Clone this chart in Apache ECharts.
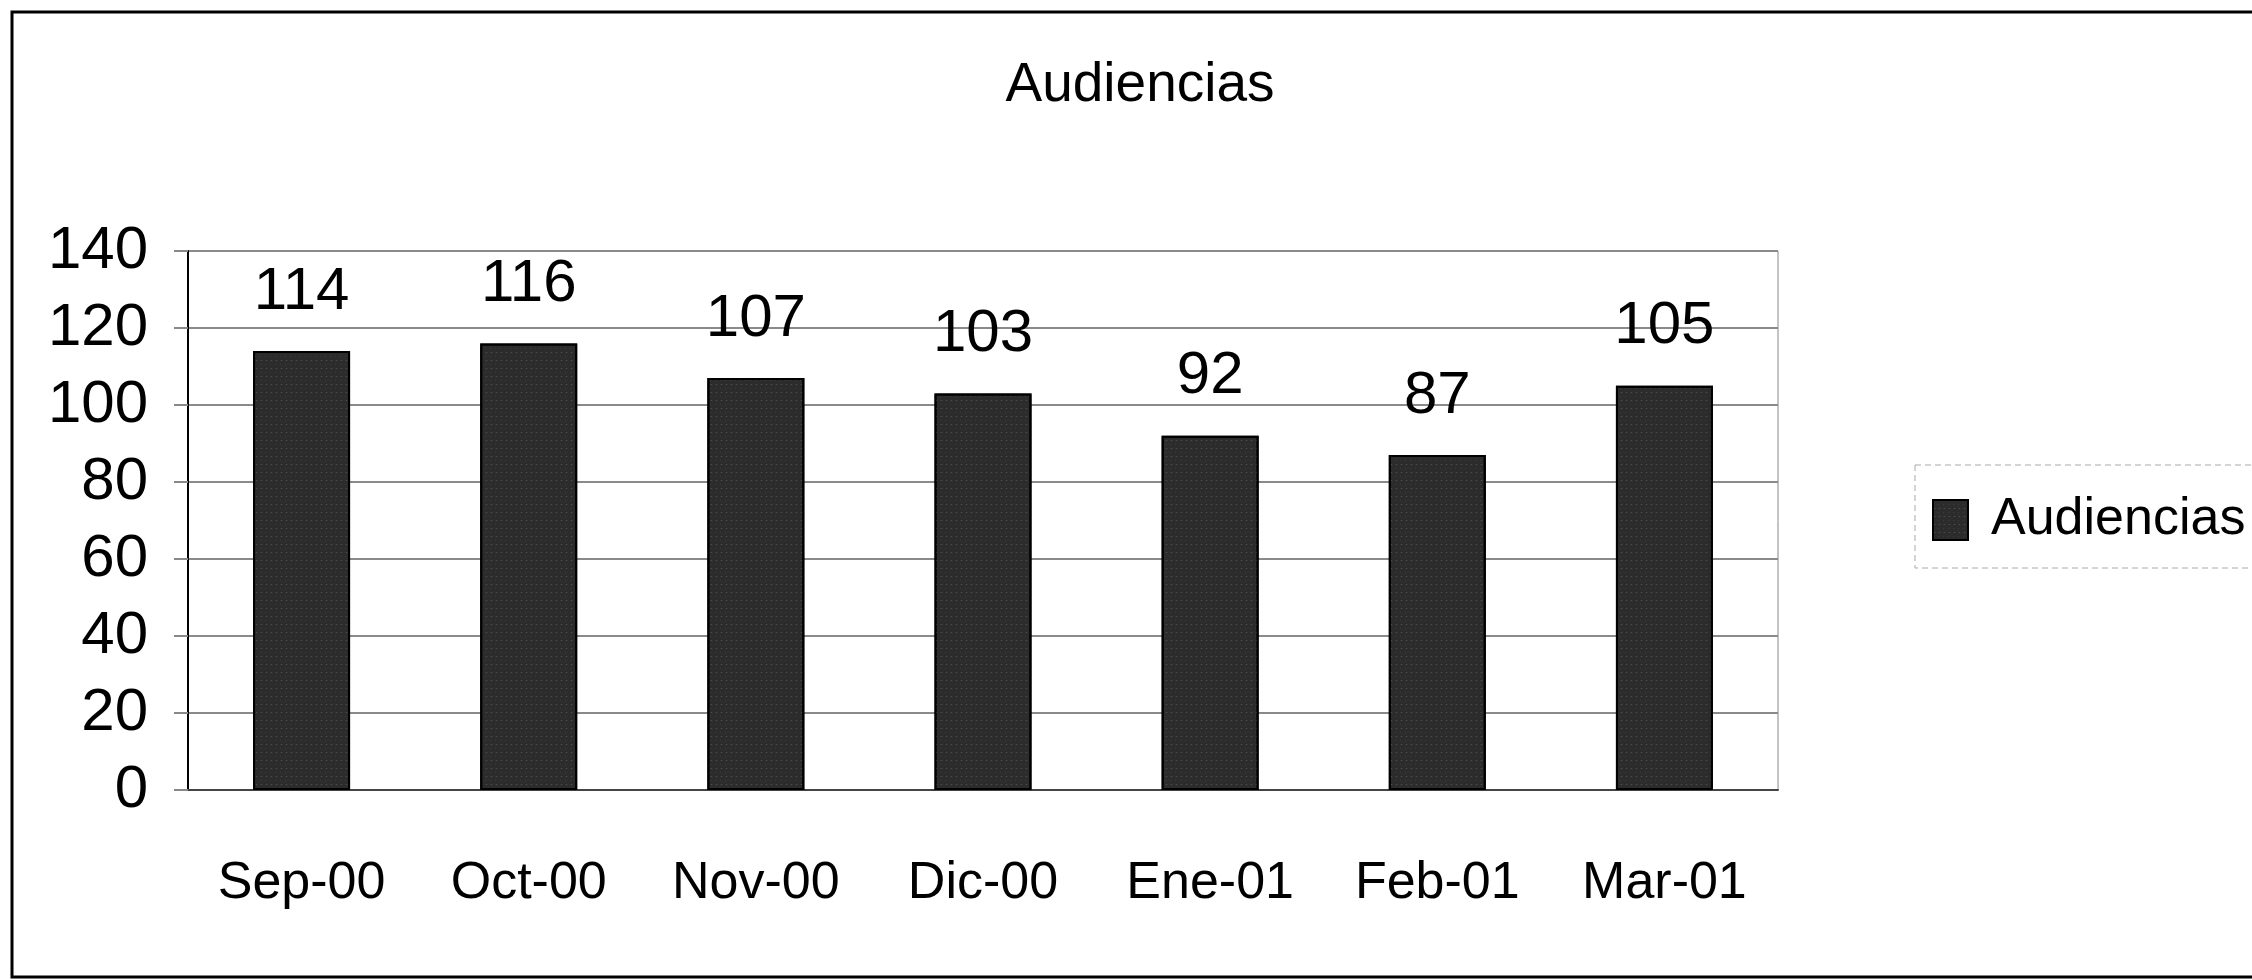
<!DOCTYPE html>
<html>
<head>
<meta charset="utf-8">
<script src="https://cdn.jsdelivr.net/npm/echarts@6/dist/echarts.min.js"></script>
<style>
  html, body { margin: 0; padding: 0; background: #fff; }
  #chart { width: 2252px; height: 980px; }
</style>
</head>
<body>
<div id="chart"></div>
<script>
// Chart data
const months = ["Sep-00", "Oct-00", "Nov-00", "Dic-00", "Ene-01", "Feb-01", "Mar-01"];
const audiencias = [114, 116, 107, 103, 92, 87, 105];
const seriesName = "Audiencias";

const font = '"Liberation Sans", Arial, sans-serif';

const chart = echarts.init(document.getElementById("chart"));

const option = {
  backgroundColor: "#fff",
  animation: false,
  aria: { enabled: true, decal: { show: true } },
  title: {
    text: "Audiencias",
    left: 1140,
    textAlign: "center",
    top: 58,
    padding: 0,
    textStyle: { fontFamily: font, fontSize: 55, fontWeight: "normal", color: "#000" },
  },
  legend: {
    data: [seriesName],
    left: 1932,
    top: 494,
    padding: 0,
    icon: "rect",
    itemWidth: 35,
    itemHeight: 40,
    textStyle: { fontFamily: font, fontSize: 52, color: "#000", padding: [0, 0, 0, 18] },
  },
  grid: {
    left: 188,
    right: 2252 - 1778,
    top: 251,
    bottom: 980 - 790,
    show: true,
    borderColor: "#888",
    borderWidth: 1,
  },
  xAxis: {
    type: "category",
    data: months,
    axisLine: { lineStyle: { color: "#444", width: 2 } },
    axisTick: { show: false },
    axisLabel: { fontFamily: font, fontSize: 52, color: "#000", margin: 68 },
  },
  yAxis: {
    type: "value",
    min: 0,
    max: 140,
    interval: 20,
    axisLine: { show: true, lineStyle: { color: "#000", width: 2 } },
    axisTick: { show: true, length: 14, lineStyle: { color: "#888", width: 2 } },
    splitLine: { lineStyle: { color: "#8a8a8a", width: 2 } },
    axisLabel: { fontFamily: font, fontSize: 60, color: "#000", margin: 40 },
  },
  series: [
    {
      name: seriesName,
      type: "bar",
      data: audiencias,
      barWidth: 97,
      itemStyle: {
        color: "#2c2c2c",
        borderColor: "#000",
        borderWidth: 2,
        decal: {
          symbol: "rect",
          symbolSize: 0.5,
          color: "rgba(170,170,170,0.55)",
          dashArrayX: [[1, 4], [3, 2]],
          dashArrayY: [1, 3],
          rotation: 0,
        },
      },
      label: {
        show: true,
        position: "top",
        distance: 29,
        fontFamily: font,
        fontSize: 60,
        color: "#000",
      },
    },
  ],
  graphic: [
    {
      type: "rect",
      shape: { x: 12, y: 12, width: 2260, height: 965 },
      style: { fill: null, stroke: "#000", lineWidth: 3 },
      silent: true,
    },
    {
      type: "rect",
      shape: { x: 1915, y: 465, width: 360, height: 103 },
      style: { fill: null, stroke: "#aaa", lineWidth: 1, lineDash: [6, 4] },
      silent: true,
    },
  ],
};

chart.setOption(option);
window.addEventListener("resize", chart.resize);
</script>
</body>
</html>
